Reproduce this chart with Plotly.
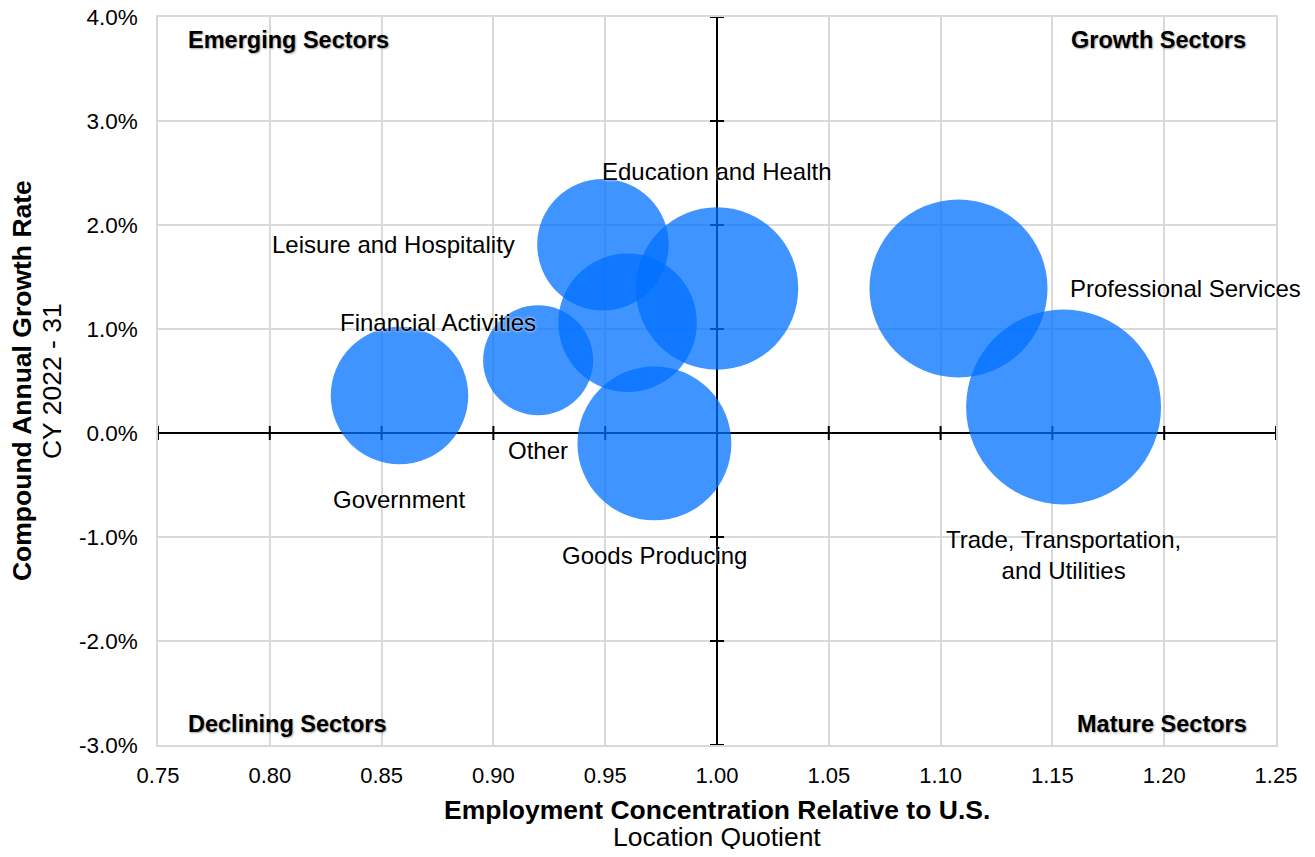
import math
import plotly.graph_objects as go

# ---------------- data ----------------
sectors = [
    "Government",
    "Other",
    "Leisure and Hospitality",
    "Financial Activities",
    "Goods Producing",
    "Education and Health",
    "Professional Services",
    "Trade, Transportation,<br>and Utilities",
]
location_quotient = [0.858, 0.920, 0.949, 0.960, 0.972, 1.000, 1.108, 1.155]
growth_rate = [0.36, 0.70, 1.81, 1.06, -0.10, 1.39, 1.39, 0.25]   # percent
employment = [189, 121, 173, 192, 237, 264, 317, 380]             # bubble size
label_side = ["below", "below", "left", "left", "below", "above", "right", "below"]

x_ticks = [0.75, 0.80, 0.85, 0.90, 0.95, 1.00, 1.05, 1.10, 1.15, 1.20, 1.25]
x_tick_labels = ["0.75", "0.80", "0.85", "0.90", "0.95", "1.00", "1.05", "1.10", "1.15", "1.20", "1.25"]
y_ticks = [-3, -2, -1, 0, 1, 2, 3, 4]
y_tick_labels = ["-3.0%", "-2.0%", "-1.0%", "0.0%", "1.0%", "2.0%", "3.0%", "4.0%"]

quadrant_names = ["Emerging Sectors", "Growth Sectors", "Declining Sectors", "Mature Sectors"]
x_title = ["Employment Concentration Relative to U.S.", "Location Quotient"]
y_title = ["Compound Annual Growth Rate", "CY 2022 - 31"]
LQ_DIVIDER = 1.0
GROWTH_DIVIDER = 0.0

# ---------------- style ----------------
FONT = "Liberation Sans, Arial, sans-serif"
BUBBLE_COLOR = "rgb(0,112,255)"
SIZEREF = 0.02
GAP = 20

fig = go.Figure()

fig.add_trace(go.Scatter(
    x=location_quotient,
    y=growth_rate,
    mode="markers",
    marker=dict(size=employment, sizemode="area", sizeref=SIZEREF,
                color=BUBBLE_COLOR, opacity=0.75, line=dict(width=0)),
    text=sectors,
    hoverinfo="text",
    showlegend=False,
    cliponaxis=False,
))

# bubble labels, placed just outside each bubble
for name, lq, g, emp, side in zip(sectors, location_quotient, growth_rate, employment, label_side):
    r = math.sqrt(emp / 2 / SIZEREF)
    kw = dict(x=lq, y=g, xref="x", yref="y", text=name, showarrow=False,
              font=dict(family=FONT, size=24, color="black", shadow="0px 0px 3px white"),
              align="center")
    if side == "below":
        kw.update(yanchor="top", xanchor="center", yshift=-(r + GAP))
    elif side == "above":
        kw.update(yanchor="bottom", xanchor="center", yshift=(r + GAP))
    elif side == "left":
        kw.update(xanchor="right", yanchor="middle", xshift=-(r + GAP))
    else:
        kw.update(xanchor="left", yanchor="middle", xshift=(r + GAP))
    fig.add_annotation(**kw)

# quadrant cross axes with tick marks
fig.add_shape(type="line", xref="x", yref="y", x0=x_ticks[0], x1=x_ticks[-1],
              y0=GROWTH_DIVIDER, y1=GROWTH_DIVIDER, line=dict(color="black", width=2), layer="between")
fig.add_shape(type="line", xref="x", yref="y", x0=LQ_DIVIDER, x1=LQ_DIVIDER,
              y0=y_ticks[0], y1=y_ticks[-1], line=dict(color="black", width=2), layer="between")
for t in x_ticks:
    fig.add_shape(type="line", xref="x", yref="y", x0=t, x1=t,
                  ysizemode="pixel", yanchor=GROWTH_DIVIDER, y0=-7, y1=7,
                  line=dict(color="black", width=2), layer="between")
for t in y_ticks:
    fig.add_shape(type="line", xref="x", yref="y", y0=t, y1=t,
                  xsizemode="pixel", xanchor=LQ_DIVIDER, x0=-7, x1=7,
                  line=dict(color="black", width=2), layer="between")

# quadrant labels
quad_pos = [(0.117, 0.968), (0.895, 0.968), (0.116, 0.029), (0.898, 0.029)]
for name, (qx, qy) in zip(quadrant_names, quad_pos):
    fig.add_annotation(x=qx, y=qy, xref="paper", yref="paper", text="<b>" + name + "</b>",
                       showarrow=False, xanchor="center", yanchor="middle",
                       font=dict(family=FONT, size=23.5, color="black",
                                 shadow="1px 1px 2px rgba(0,0,0,0.35)"))

# axis titles (bold line + plain line)
fig.add_annotation(x=0.5, y=-0.0893, xref="paper", yref="paper", text="<b>" + x_title[0] + "</b>",
                   showarrow=False, xanchor="center", yanchor="middle",
                   font=dict(family=FONT, size=26.5, color="black"))
fig.add_annotation(x=0.5, y=-0.1264, xref="paper", yref="paper", text=x_title[1],
                   showarrow=False, xanchor="center", yanchor="middle",
                   font=dict(family=FONT, size=26.5, color="black"))
fig.add_annotation(x=-0.1216, y=0.5, xref="paper", yref="paper", text="<b>" + y_title[0] + "</b>",
                   showarrow=False, xanchor="center", yanchor="middle", textangle=-90,
                   font=dict(family=FONT, size=26.5, color="black"))
fig.add_annotation(x=-0.0948, y=0.5, xref="paper", yref="paper", text=y_title[1],
                   showarrow=False, xanchor="center", yanchor="middle", textangle=-90,
                   font=dict(family=FONT, size=26.5, color="black"))

fig.update_layout(
    width=1299, height=841,
    margin=dict(l=150, r=31, t=9, b=104),
    paper_bgcolor="white", plot_bgcolor="white",
    font=dict(family=FONT, color="black"),
    xaxis=dict(range=[x_ticks[0], x_ticks[-1]], tickvals=x_ticks, ticktext=x_tick_labels,
               showgrid=True, gridcolor="#d9d9d9", gridwidth=1.5, zeroline=False,
               showline=True, linecolor="#d9d9d9", linewidth=1.5, mirror=True,
               ticks="outside", ticklen=10, tickcolor="rgba(0,0,0,0)", automargin=False,
               ticklabeloverflow="allow",
               tickfont=dict(family=FONT, size=22, color="black")),
    yaxis=dict(range=[y_ticks[0], y_ticks[-1]], tickvals=y_ticks, ticktext=y_tick_labels,
               showgrid=True, gridcolor="#d9d9d9", gridwidth=1.5, zeroline=False,
               showline=True, linecolor="#d9d9d9", linewidth=1.5, mirror=True,
               ticks="outside", ticklen=14, tickcolor="rgba(0,0,0,0)", automargin=False,
               ticklabeloverflow="allow",
               tickfont=dict(family=FONT, size=22.5, color="black")),
)

fig.write_html("out.html")
